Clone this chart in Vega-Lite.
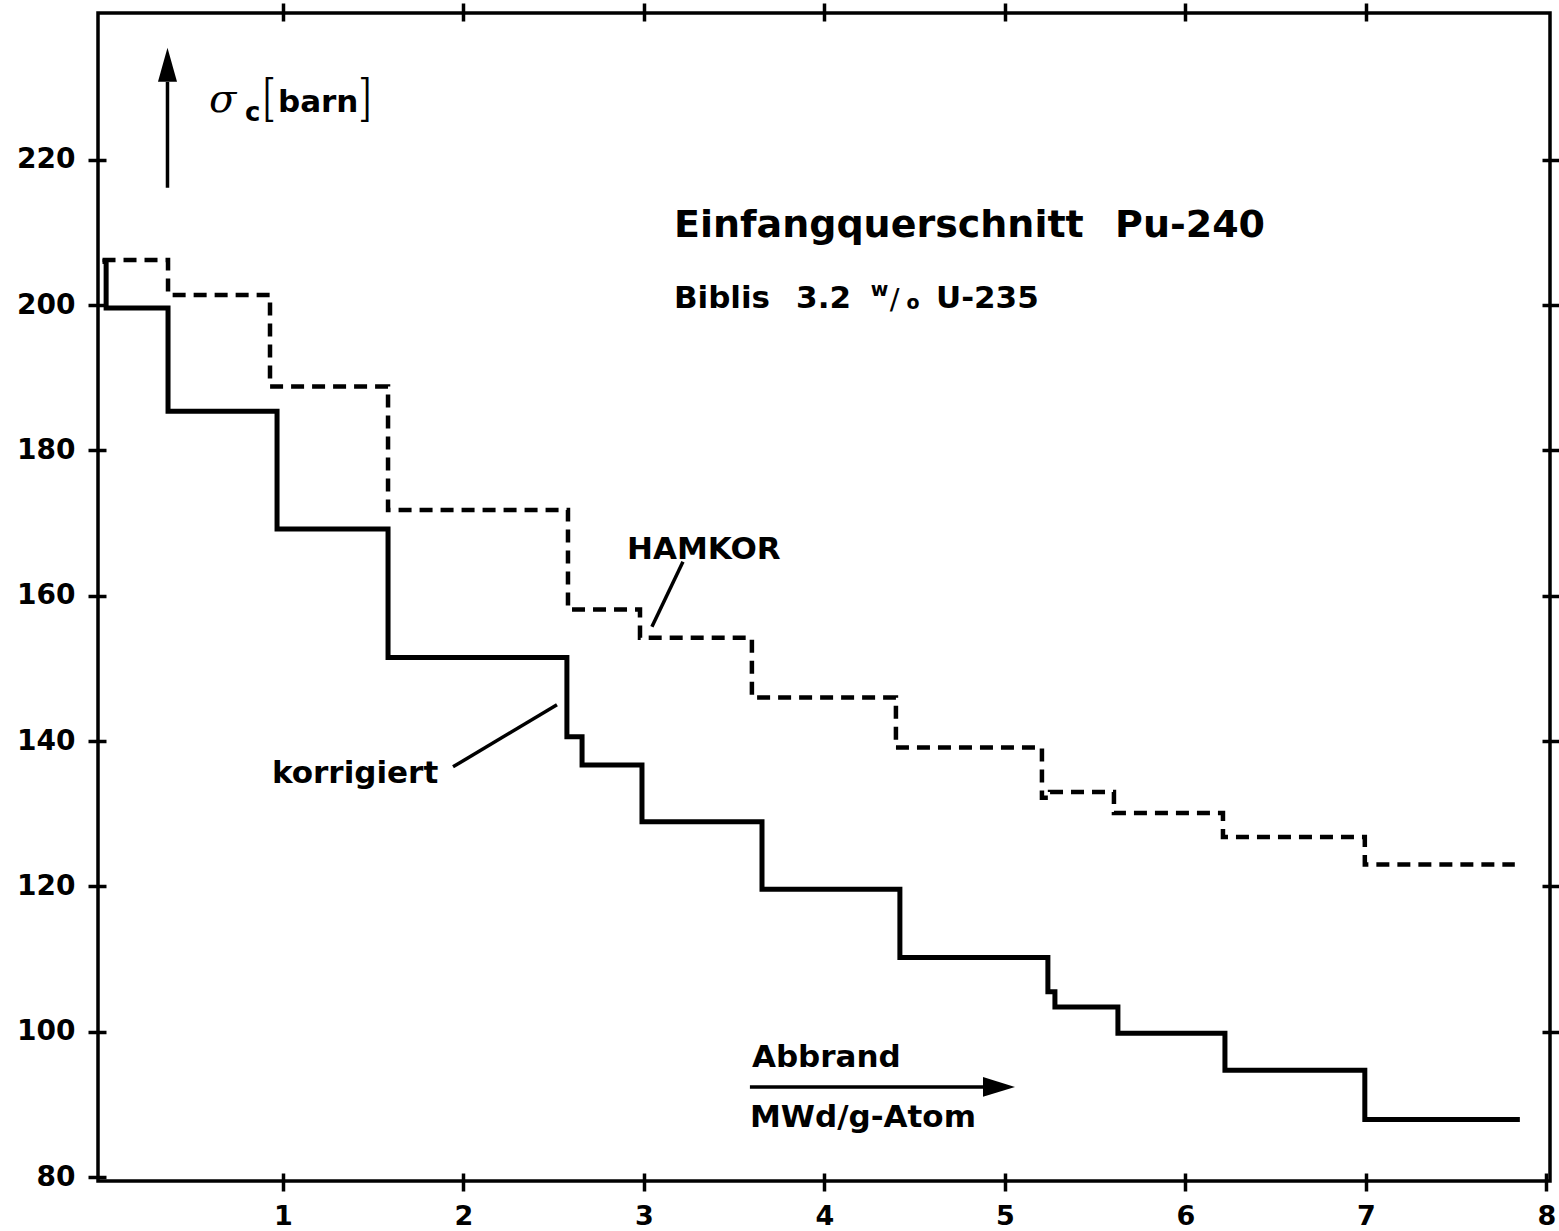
{
  "$schema": "https://vega.github.io/schema/vega-lite/v6.json",
  "width": 1452,
  "height": 1168,
  "autosize": "none",
  "padding": {"left": 98, "top": 13, "right": 9, "bottom": 50},
  "background": "white",
  "config": {"view": {"stroke": "black", "strokeWidth": 3.5}},
  "datasets": {
    "korrigiert": [
      {"x": 0, "y": 206.0}, {"x": 0.02, "y": 199.6}, {"x": 0.363, "y": 185.4}, {"x": 0.967, "y": 169.2},
      {"x": 1.582, "y": 151.5}, {"x": 2.573, "y": 140.6}, {"x": 2.657, "y": 136.7}, {"x": 2.989, "y": 128.9},
      {"x": 3.654, "y": 119.6}, {"x": 4.418, "y": 110.2}, {"x": 5.238, "y": 105.5}, {"x": 5.277, "y": 103.4},
      {"x": 5.626, "y": 99.8}, {"x": 6.219, "y": 94.7}, {"x": 6.994, "y": 87.9}, {"x": 7.853, "y": 87.9}
    ],
    "hamkor": [
      {"x": 0, "y": 206.2}, {"x": 0.363, "y": 201.4}, {"x": 0.928, "y": 188.8}, {"x": 1.582, "y": 171.8},
      {"x": 2.579, "y": 158.1}, {"x": 2.978, "y": 154.2}, {"x": 3.598, "y": 146.0}, {"x": 4.396, "y": 139.1},
      {"x": 5.205, "y": 132.2}, {"x": 5.25, "y": 133.0}, {"x": 5.604, "y": 130.1}, {"x": 6.208, "y": 126.8},
      {"x": 6.994, "y": 123.0}, {"x": 7.825, "y": 123.0}
    ],
    "lines": [
      {"x": 3.216, "y": 164.67, "x2": 3.044, "y2": 155.72},
      {"x": 1.942, "y": 136.45, "x2": 2.518, "y2": 145.0},
      {"x": 0.36, "y": 216.15, "x2": 0.36, "y2": 230.7},
      {"x": 3.587, "y": 92.4, "x2": 4.917, "y2": 92.4}
    ],
    "headUp": [{"x": 0.36, "y": 233.08}],
    "headRight": [{"x": 4.967, "y": 92.4}],
    "title": [
      {"x": 3.166, "y": 209.4, "t": "Einfangquerschnitt"},
      {"x": 5.61, "y": 209.4, "t": "Pu-240"}
    ],
    "sub": [
      {"x": 3.166, "y": 199.6, "t": "Biblis"},
      {"x": 3.843, "y": 199.6, "t": "3.2"},
      {"x": 4.618, "y": 199.6, "t": "U-235"}
    ],
    "small": [
      {"x": 4.257, "y": 201.2, "t": "w"},
      {"x": 4.455, "y": 199.4, "t": "o"}
    ],
    "slash": [{"x": 4.362, "y": 199.4, "t": "/"}],
    "labels": [
      {"x": 2.906, "y": 165.08, "t": "HAMKOR"},
      {"x": 0.939, "y": 134.25, "t": "korrigiert"},
      {"x": 3.598, "y": 95.16, "t": "Abbrand"},
      {"x": 3.587, "y": 86.9, "t": "MWd/g-Atom"},
      {"x": 0.972, "y": 226.6, "t": "barn"}
    ],
    "sigma": [{"x": 0.59, "y": 226.6, "t": "σ"}],
    "csub": [{"x": 0.79, "y": 225.37, "t": "c"}],
    "brackets": [
      {"x": 0.884, "y": 226.19, "t": "["},
      {"x": 1.432, "y": 226.19, "t": "]"}
    ]
  },
  "encoding": {
    "x": {"field": "x", "type": "quantitative", "scale": {"domain": [-0.025, 8.02], "nice": false, "zero": false}, "axis": null},
    "y": {"field": "y", "type": "quantitative", "scale": {"domain": [79.45, 240.2], "nice": false, "zero": false}, "axis": null}
  },
  "resolve": {"axis": {"x": "independent", "y": "independent"}},
  "layer": [
    {
      "data": {"name": "korrigiert"},
      "mark": {"type": "line", "interpolate": "step-after", "color": "black", "strokeWidth": 5, "strokeJoin": "miter", "strokeCap": "butt"},
      "encoding": {
        "x": {"field": "x", "type": "quantitative", "scale": {"domain": [-0.025, 8.02], "nice": false, "zero": false},
          "axis": {"orient": "bottom", "values": [1, 2, 3, 4, 5, 6, 7, 8], "format": "d", "domain": false, "grid": false, "offset": -8, "tickSize": 18, "tickWidth": 3.5, "tickColor": "black",
            "labelFont": "DejaVu Sans", "labelFontWeight": "bold", "labelFontSize": 27, "labelColor": "black", "labelPadding": 12, "labelFlush": false, "labelOverlap": false, "title": null}},
        "y": {"field": "y", "type": "quantitative", "scale": {"domain": [79.45, 240.2], "nice": false, "zero": false},
          "axis": {"orient": "left", "values": [80, 100, 120, 140, 160, 180, 200, 220], "format": "d", "domain": false, "grid": false, "offset": -8, "tickSize": 18, "tickWidth": 3.5, "tickColor": "black",
            "labelFont": "DejaVu Sans", "labelFontWeight": "bold", "labelFontSize": 28, "labelColor": "black", "labelPadding": 13, "labelFlush": false, "labelOverlap": false, "title": null}}
      }
    },
    {
      "data": {"name": "hamkor"},
      "mark": {"type": "line", "interpolate": "step-after", "color": "black", "strokeWidth": 4.5, "strokeDash": [13, 8], "strokeJoin": "miter", "strokeCap": "butt"},
      "encoding": {
        "x": {"field": "x", "type": "quantitative", "scale": {"domain": [-0.025, 8.02], "nice": false, "zero": false},
          "axis": {"orient": "top", "values": [1, 2, 3, 4, 5, 6, 7], "labels": false, "domain": false, "grid": false, "offset": -8, "tickSize": 18, "tickWidth": 3.5, "tickColor": "black", "title": null}},
        "y": {"field": "y", "type": "quantitative", "scale": {"domain": [79.45, 240.2], "nice": false, "zero": false},
          "axis": {"orient": "right", "values": [100, 120, 140, 160, 180, 200, 220], "labels": false, "domain": false, "grid": false, "offset": -8, "tickSize": 18, "tickWidth": 3.5, "tickColor": "black", "title": null}}
      }
    },
    {
      "data": {"name": "lines"},
      "mark": {"type": "rule", "color": "black", "strokeWidth": 3.5},
      "encoding": {
        "x2": {"field": "x2"},
        "y2": {"field": "y2"}
      }
    },
    {
      "data": {"name": "headUp"},
      "mark": {"type": "point", "shape": "M0,-1L0.56,1L-0.56,1Z", "size": 1156, "filled": true, "color": "black", "opacity": 1, "strokeWidth": 0}
    },
    {
      "data": {"name": "headRight"},
      "mark": {"type": "point", "shape": "M1,0L-1,0.62L-1,-0.62Z", "size": 1024, "filled": true, "color": "black", "opacity": 1, "strokeWidth": 0}
    },
    {
      "data": {"name": "title"},
      "mark": {"type": "text", "align": "left", "baseline": "alphabetic", "font": "DejaVu Sans", "fontWeight": "bold", "fontSize": 38, "color": "black"},
      "encoding": {"text": {"field": "t"}}
    },
    {
      "data": {"name": "sub"},
      "mark": {"type": "text", "align": "left", "baseline": "alphabetic", "font": "DejaVu Sans", "fontWeight": "bold", "fontSize": 31, "color": "black"},
      "encoding": {"text": {"field": "t"}}
    },
    {
      "data": {"name": "small"},
      "mark": {"type": "text", "align": "left", "baseline": "alphabetic", "font": "DejaVu Sans", "fontWeight": "bold", "fontSize": 19, "color": "black"},
      "encoding": {"text": {"field": "t"}}
    },
    {
      "data": {"name": "slash"},
      "mark": {"type": "text", "align": "left", "baseline": "alphabetic", "font": "DejaVu Sans", "fontWeight": "normal", "fontSize": 29, "color": "black"},
      "encoding": {"text": {"field": "t"}}
    },
    {
      "data": {"name": "labels"},
      "mark": {"type": "text", "align": "left", "baseline": "alphabetic", "font": "DejaVu Sans", "fontWeight": "bold", "fontSize": 31, "color": "black"},
      "encoding": {"text": {"field": "t"}}
    },
    {
      "data": {"name": "sigma"},
      "mark": {"type": "text", "align": "left", "baseline": "alphabetic", "font": "DejaVu Serif", "fontStyle": "italic", "fontSize": 40, "color": "black"},
      "encoding": {"text": {"field": "t"}}
    },
    {
      "data": {"name": "csub"},
      "mark": {"type": "text", "align": "left", "baseline": "alphabetic", "font": "DejaVu Sans", "fontWeight": "bold", "fontSize": 26, "color": "black"},
      "encoding": {"text": {"field": "t"}}
    },
    {
      "data": {"name": "brackets"},
      "mark": {"type": "text", "align": "left", "baseline": "alphabetic", "font": "Roboto", "fontWeight": 300, "fontSize": 46, "color": "black"},
      "encoding": {"text": {"field": "t"}}
    }
  ]
}
